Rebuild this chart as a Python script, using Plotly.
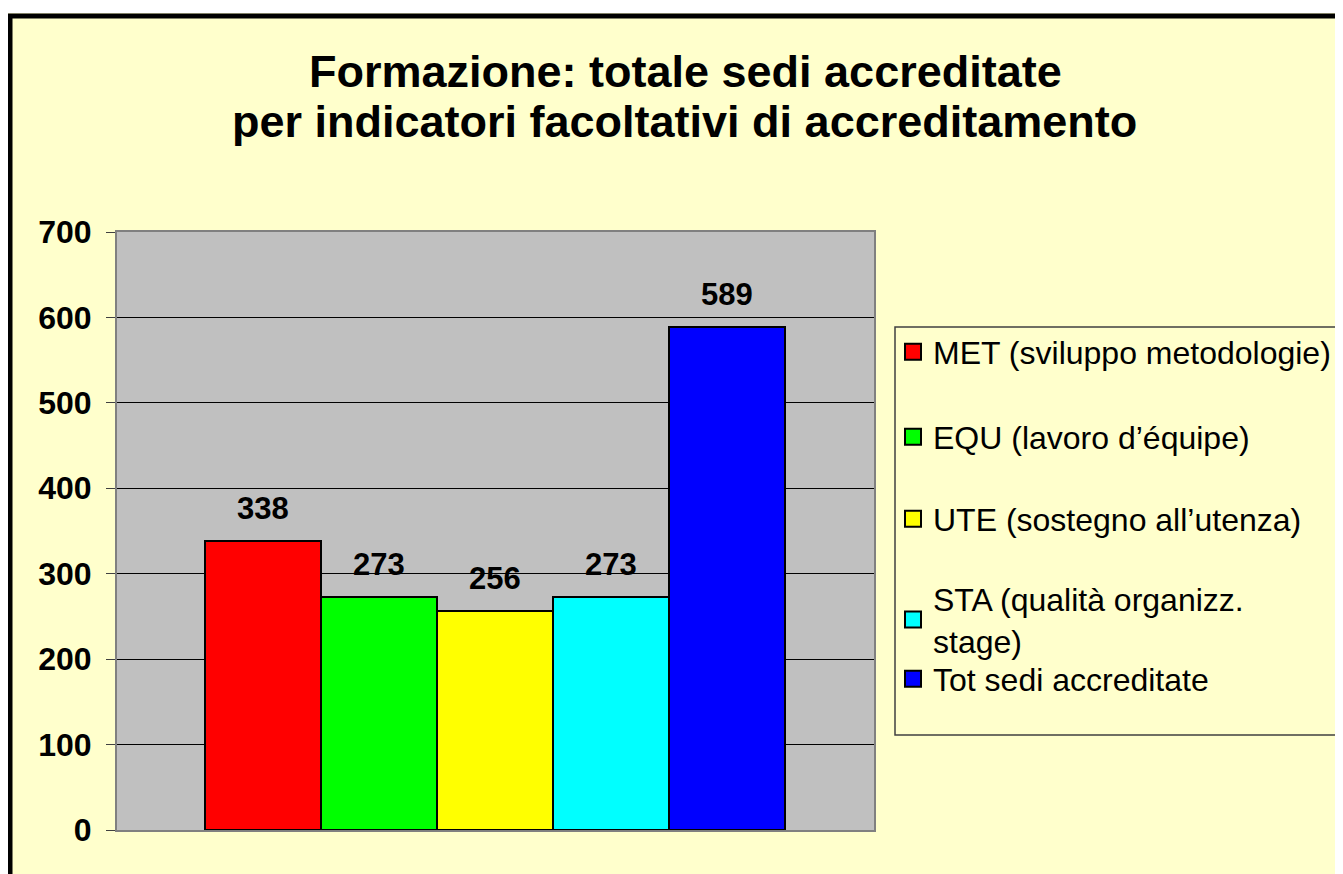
import plotly.graph_objects as go

# dati del grafico
categorie = ["MET", "EQU", "UTE", "STA", "TOT"]
etichette = [
    "MET (sviluppo metodologie)",
    "EQU (lavoro d\u2019\u00e9quipe)",
    "UTE (sostegno all\u2019utenza)",
    "STA (qualit\u00e0 organizz.<br>stage)",
    "Tot sedi accreditate",
]
valori = [338, 273, 256, 273, 589]
colori = ["#FF0000", "#00FF00", "#FFFF00", "#00FFFF", "#0000FF"]
tick_y = [0, 100, 200, 300, 400, 500, 600, 700]
titolo = ["Formazione: totale sedi accreditate",
          "per indicatori facoltativi di accreditamento"]

FONT = "Arial, Liberation Sans, sans-serif"
W, H = 1343, 874
OFF = 8  # margine del body della pagina
# area del grafico in coordinate della pagina
X0, X1, Y0, Y1 = 117, 874, 232, 830
PW, PH = X1 - X0, Y1 - Y0
L, T = X0 - OFF, Y0 - OFF
R, B = W - L - PW, H - T - PH


# conversione pixel (pagina) -> coordinate paper
def px(x):
    return (x - X0) / PW


def py(y):
    return (Y1 - y) / PH


fig = go.Figure()

legend_y = [352, 437, 519, 620, 679]
for i, (cat, nome, val, col) in enumerate(zip(categorie, etichette, valori, colori)):
    lg = "legend" if i == 0 else "legend%d" % (i + 1)
    fig.add_trace(go.Bar(
        x=[cat], y=[val], name=nome, showlegend=False,
        marker=dict(color=col, line=dict(color="black", width=2)),
        hoverinfo="y",
    ))
    # voce di legenda con quadratino piu' grande
    fig.add_trace(go.Scatter(
        x=[None], y=[None], name=nome, mode="markers", legend=lg,
        marker=dict(symbol="square", size=16, color=col,
                    line=dict(color="black", width=2)),
    ))
    fig.add_annotation(
        x=cat, y=val, text="<b>%d</b>" % val, showarrow=False,
        yanchor="bottom", yshift=13,
        font=dict(family=FONT, size=31, color="black"),
    )

# titolo su due righe (interlinea come nell'originale)
fig.add_annotation(
    xref="paper", yref="paper", x=px(685), y=py(72),
    text="<b>%s</b>" % titolo[0], showarrow=False,
    xanchor="center", yanchor="middle",
    font=dict(family=FONT, size=45, color="black"),
)
fig.add_annotation(
    xref="paper", yref="paper", x=px(684), y=py(122),
    text="<b>%s</b>" % titolo[1], showarrow=False,
    xanchor="center", yanchor="middle",
    font=dict(family=FONT, size=45, color="black"),
)

legend_style = dict(
    bgcolor="rgba(0,0,0,0)", borderwidth=0, itemsizing="trace",
    font=dict(family=FONT, size=32, color="black"),
    xanchor="left", yanchor="middle", x=px(893),
)
layout_legends = {}
for i, yy in enumerate(legend_y):
    key = "legend" if i == 0 else "legend%d" % (i + 1)
    layout_legends[key] = dict(legend_style, y=py(yy))

fig.update_layout(
    width=W, height=H,
    margin=dict(l=L, r=R, t=T, b=B),
    paper_bgcolor="#FFFFCC",
    plot_bgcolor="#C0C0C0",
    barmode="overlay",
    bargap=0,
    showlegend=True,
    xaxis=dict(
        type="category", categoryarray=categorie,
        range=[-1.2586, 5.267],
        showticklabels=False, ticks="", showgrid=False,
        showline=True, linecolor="#808080", linewidth=2, mirror=True,
        zeroline=False, fixedrange=True,
    ),
    yaxis=dict(
        range=[0, 700], tickvals=tick_y,
        ticktext=["<b>%d</b>" % v for v in tick_y],
        tickfont=dict(family=FONT, size=32, color="black"),
        ticks="outside", ticklen=9, tickcolor="#404040", tickwidth=1,
        ticklabelstandoff=8,
        showgrid=True, gridcolor="black", gridwidth=1,
        showline=True, linecolor="#808080", linewidth=2, mirror=True,
        zeroline=False, fixedrange=True,
    ),
    **layout_legends,
)

# riquadro della legenda, bordo bianco e cornice nera
fig.add_shape(type="rect", xref="paper", yref="paper",
              x0=px(895), x1=px(1370), y0=py(327), y1=py(735),
              line=dict(color="#404040", width=1.5), layer="below")
fig.add_shape(type="rect", xref="paper", yref="paper",
              x0=px(-20), x1=px(W + 20), y0=py(-20), y1=py(13),
              fillcolor="white", line=dict(width=0), layer="above")
fig.add_shape(type="rect", xref="paper", yref="paper",
              x0=px(10), x1=px(W + 30), y0=py(16), y1=py(H + 30),
              line=dict(color="black", width=5), layer="above")

fig.write_html("out.html")
